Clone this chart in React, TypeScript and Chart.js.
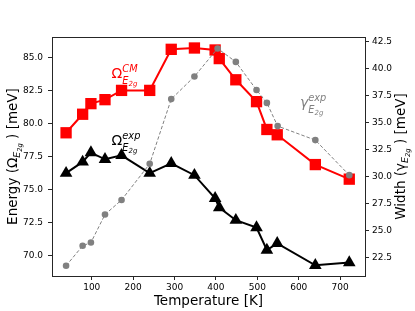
import React, { useEffect, useRef } from "react";
import { Chart, registerables } from "chart.js";

Chart.register(...registerables);

// ---- data ----
const temps = [38, 78, 98, 132, 172, 240, 292, 348, 398, 408, 448, 498, 523, 548, 640, 722];
const omegaCM = [79.3, 80.7, 81.5, 81.8, 82.5, 82.5, 85.6, 85.7, 85.55, 84.9, 83.3, 81.65, 79.55, 79.15, 76.9, 75.8];
const omegaExp = [76.25, 77.1, 77.8, 77.3, 77.6, 76.25, 77.0, 76.1, 74.35, 73.65, 72.7, 72.15, 70.45, 70.95, 69.3, 69.5];
const widthTemps = [38, 78, 98, 132, 172, 240, 292, 348, 404, 448, 498, 523, 549, 640, 722];
const gammaExp = [21.75, 23.6, 23.9, 26.5, 27.85, 31.2, 37.2, 39.3, 41.9, 40.65, 38.05, 36.85, 34.7, 33.4, 30.15];

const xTicks = [100, 200, 300, 400, 500, 600, 700];
const yLeftTicks = [70, 72.5, 75, 77.5, 80, 82.5, 85];
const yRightTicks = [22.5, 25, 27.5, 30, 32.5, 35, 37.5, 40, 42.5];

type Part = { t: string; s: number; dy: number; it?: boolean; back?: boolean };

const FONT = '"DejaVu Sans"';

function runParts(ctx: CanvasRenderingContext2D, x: number, y: number, size: number, parts: Part[], draw: boolean) {
  let cursor = x;
  let prevStart = x;
  let maxX = x;
  for (const p of parts) {
    const start = p.back ? prevStart : cursor;
    ctx.font = `${p.it ? "italic " : ""}${size * p.s}px ${FONT}`;
    if (draw) ctx.fillText(p.t, start, y + p.dy * size);
    const w = ctx.measureText(p.t).width;
    prevStart = start;
    cursor = start + w;
    if (cursor > maxX) maxX = cursor;
  }
  return maxX - x;
}

const annotations = [
  { x: 148, y: 83.45, axis: "y", color: "#ff0000", parts: [
    { t: "Ω", s: 1, dy: 0 },
    { t: "CM", s: 0.7, dy: -0.42, it: true },
    { t: "E", s: 0.7, dy: 0.42, it: true, back: true },
    { t: "2g", s: 0.5, dy: 0.58, it: true },
  ] as Part[] },
  { x: 148, y: 78.4, axis: "y", color: "#000000", parts: [
    { t: "Ω", s: 1, dy: 0 },
    { t: "exp", s: 0.7, dy: -0.42, it: true },
    { t: "E", s: 0.7, dy: 0.42, it: true, back: true },
    { t: "2g", s: 0.5, dy: 0.58, it: true },
  ] as Part[] },
  { x: 603, y: 36.5, axis: "y1", color: "#808080", parts: [
    { t: "γ", s: 1, dy: 0, it: true },
    { t: "exp", s: 0.7, dy: -0.42, it: true },
    { t: "E", s: 0.7, dy: 0.42, it: true, back: true },
    { t: "2g", s: 0.5, dy: 0.58, it: true },
  ] as Part[] },
];

const leftTitle: Part[] = [
  { t: "Energy (Ω", s: 1, dy: 0 },
  { t: "E", s: 0.7, dy: 0.2, it: true },
  { t: "2g", s: 0.5, dy: 0.36, it: true },
  { t: " ) [meV]", s: 1, dy: 0 },
];
const rightTitle: Part[] = [
  { t: "Width (γ", s: 1, dy: 0 },
  { t: "E", s: 0.7, dy: 0.2, it: true },
  { t: "2g", s: 0.5, dy: 0.36, it: true },
  { t: " ) [meV]", s: 1, dy: 0 },
];

const decorPlugin = {
  id: "decor",
  afterDatasetsDraw(chart: any) {
    const ctx: CanvasRenderingContext2D = chart.ctx;
    ctx.save();
    ctx.textBaseline = "alphabetic";
    ctx.textAlign = "left";
    for (const an of annotations) {
      const px = chart.scales.x.getPixelForValue(an.x);
      const py = chart.scales[an.axis].getPixelForValue(an.y);
      ctx.fillStyle = an.color;
      runParts(ctx, px, py, 14, an.parts, true);
    }
    ctx.restore();
  },
  afterDraw(chart: any) {
    const ctx: CanvasRenderingContext2D = chart.ctx;
    const a = chart.chartArea;
    ctx.save();
    ctx.strokeStyle = "#262626";
    ctx.lineWidth = 1;
    ctx.strokeRect(Math.round(a.left) + 0.5, Math.round(a.top) + 0.5, Math.round(a.right - a.left), Math.round(a.bottom - a.top));

    ctx.fillStyle = "#000";
    ctx.textBaseline = "alphabetic";
    const size = 13.5;
    const cy = (a.top + a.bottom) / 2;
    // left title
    ctx.save();
    ctx.translate(17, cy);
    ctx.rotate(-Math.PI / 2);
    let w = runParts(ctx, 0, 0, size, leftTitle, false);
    runParts(ctx, -w / 2, 0, size, leftTitle, true);
    ctx.restore();
    // right title
    ctx.save();
    ctx.translate(405, cy);
    ctx.rotate(-Math.PI / 2);
    w = runParts(ctx, 0, 0, size, rightTitle, false);
    runParts(ctx, -w / 2, 0, size, rightTitle, true);
    ctx.restore();
    // bottom title
    ctx.font = `${size}px ${FONT}`;
    ctx.textAlign = "center";
    ctx.fillText("Temperature [K]", (a.left + a.right) / 2, 305);
    ctx.restore();
  },
};

export default function App() {
  const ref = useRef<HTMLCanvasElement | null>(null);
  useEffect(() => {
    if (!ref.current) return;
    const tickFont = { family: "DejaVu Sans", size: 9 };
    const grid = { drawOnChartArea: false, drawTicks: true, tickLength: 4, color: "#262626" };
    const chart = new Chart(ref.current, {
      type: "line",
      data: {
        datasets: [
          {
            label: "gamma exp",
            data: widthTemps.map((t, i) => ({ x: t, y: gammaExp[i] })),
            yAxisID: "y1",
            borderColor: "#808080",
            backgroundColor: "#808080",
            borderWidth: 1,
            borderDash: [3.5, 2],
            pointStyle: "circle",
            pointRadius: 3.3,
            pointBorderWidth: 0,
            pointBackgroundColor: "#808080",
            order: 1,
          },
          {
            label: "omega exp",
            data: temps.map((t, i) => ({ x: t, y: omegaExp[i] })),
            yAxisID: "y",
            borderColor: "#000000",
            backgroundColor: "#000000",
            borderWidth: 2,
            pointStyle: "triangle",
            pointRadius: 7.3,
            pointBorderWidth: 0,
            pointBackgroundColor: "#000000",
            order: 2,
          },
          {
            label: "omega CM",
            data: temps.map((t, i) => ({ x: t, y: omegaCM[i] })),
            yAxisID: "y",
            borderColor: "#ff0000",
            backgroundColor: "#ff0000",
            borderWidth: 2,
            pointStyle: "rect",
            pointRadius: 8,
            pointBorderWidth: 0,
            pointBackgroundColor: "#ff0000",
            order: 3,
          },
        ],
      },
      options: {
        animation: false,
        responsive: false,
        devicePixelRatio: 1,
        layout: { padding: { top: 37, left: 0, right: 0, bottom: 0 } },
        plugins: { legend: { display: false }, tooltip: { enabled: false } },
        elements: { line: { tension: 0 } },
        scales: {
          x: {
            type: "linear",
            position: "bottom",
            min: 4,
            max: 760,
            afterBuildTicks: (s: any) => { s.ticks = xTicks.map((v) => ({ value: v })); },
            afterFit: (s: any) => { s.height = 35; },
            grid,
            border: { display: false },
            ticks: { font: tickFont, color: "#000", padding: 2, autoSkip: false, maxRotation: 0, callback: (v: any) => String(v) },
          },
          y: {
            type: "linear",
            position: "left",
            min: 68.49,
            max: 86.53,
            afterBuildTicks: (s: any) => { s.ticks = yLeftTicks.map((v) => ({ value: v })); },
            afterFit: (s: any) => { s.width = 52; },
            grid,
            border: { display: false },
            ticks: { font: tickFont, color: "#000", padding: 5, autoSkip: false, callback: (v: any) => Number(v).toFixed(1) },
          },
          y1: {
            type: "linear",
            position: "right",
            min: 20.8,
            max: 42.96,
            afterBuildTicks: (s: any) => { s.ticks = yRightTicks.map((v) => ({ value: v })); },
            afterFit: (s: any) => { s.width = 50; },
            grid,
            border: { display: false },
            ticks: { font: tickFont, color: "#000", padding: 3, autoSkip: false, callback: (v: any) => Number(v).toFixed(1) },
          },
        },
      },
      plugins: [decorPlugin],
    } as any);
    return () => chart.destroy();
  }, []);
  return (
    <div style={{ position: "fixed", left: 0, top: 0, width: 415, height: 311, background: "#fff" }}>
      <canvas ref={ref} width={415} height={311} style={{ display: "block" }} />
    </div>
  );
}
